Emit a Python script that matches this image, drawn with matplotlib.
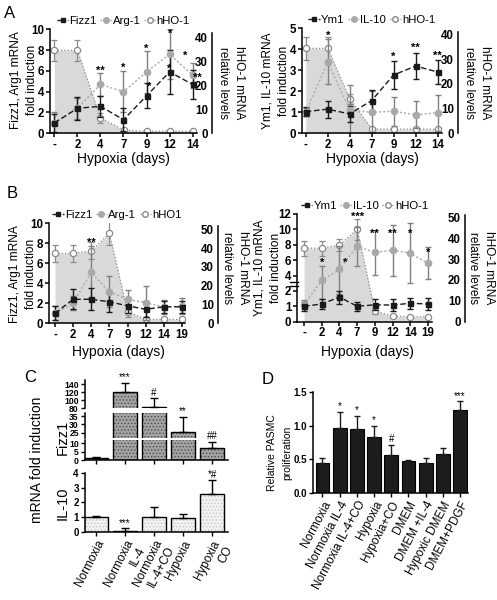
import numpy as np
import matplotlib.pyplot as plt
import matplotlib.transforms as mtransforms
from matplotlib.lines import Line2D

plt.rcParams['font.family'] = ['Liberation Sans', 'DejaVu Sans']
plt.rcParams['hatch.linewidth'] = 0.6

# ---------------- data ----------------
days_a = ['-', '2', '4', '7', '9', '12', '14']
days_b = ['-', '2', '4', '7', '9', '12', '14', '19']

# A, left: Fizz1 / Arg-1 (fold induction), hHO-1 (relative levels)
fizz1_a = [1.0, 2.4, 2.6, 1.3, 3.6, 5.9, 4.7]
fizz1_a_err = [0.9, 1.1, 1.0, 1.1, 1.2, 2.1, 1.4]
arg1_a = [1.0, 2.4, 4.7, 4.0, 5.9, 7.6, 5.6]
arg1_a_err = [1.0, 1.0, 1.1, 2.0, 2.0, 2.4, 1.2]
hho_a = [34.8, 34.8, 6.5, 1.4, 0.8, 1.0, 0.8]
hho_a_err = [4.5, 4.5, 2.0, 0.4, 0.2, 0.2, 0.2]
stars_a = [(2, 6.35, '**'), (3, 6.6, '*'), (4, 8.4, '*'), (4.12, 4.8, '*'),
           (5.04, 9.9, '*'), (5.0, 6.5, '*'), (5.67, 7.8, '*'), (6.2, 5.6, '**')]

# A, right: Ym1 / IL-10, hHO-1
ym1_a = [1.03, 1.15, 0.92, 1.56, 2.78, 3.2, 2.92]
ym1_a_err = [0.2, 0.4, 0.4, 0.5, 0.68, 0.63, 0.55]
il10_a = [1.0, 3.4, 1.1, 1.0, 1.05, 0.88, 0.98]
il10_a_err = [0.2, 1.07, 1.2, 1.0, 0.7, 0.65, 0.85]
hho_a2 = [34.3, 34.3, 14.0, 1.8, 1.6, 1.8, 1.6]
hho_a2_err = [4.5, 4.5, 2.0, 0.3, 0.3, 0.3, 0.3]
stars_a2 = [(1, 4.8, '*'), (4, 3.8, '*'), (5, 4.24, '**'), (6, 3.86, '**')]

# B, left: Fizz1 / Arg-1, hHO1
fizz1_b = [1.0, 2.4, 2.4, 2.15, 1.75, 1.4, 1.65, 1.65]
fizz1_b_err = [0.7, 1.0, 1.1, 1.0, 0.7, 0.8, 0.6, 0.6]
arg1_b = [1.0, 2.0, 5.1, 3.15, 2.4, 2.05, 1.65, 1.7]
arg1_b_err = [0.7, 0.7, 2.6, 1.55, 0.9, 1.7, 0.7, 0.8]
hho_b = [37.2, 37.2, 38.6, 47.9, 6.2, 2.1, 2.1, 2.1]
hho_b_err = [4.5, 4.5, 4.5, 6.3, 3.0, 0.5, 0.3, 0.3]
stars_b = [(2, 8.4, '**')]

# B, right: Ym1 / IL-10, hHO-1 (broken left axis)
ym1_b = [1.0, 1.15, 1.6, 1.0, 1.1, 1.08, 1.2, 1.15]
ym1_b_err = [0.3, 0.35, 0.45, 0.3, 0.35, 0.4, 0.35, 0.4]
il10_b = [1.1, 3.4, 4.8, 7.8, 7.0, 7.3, 6.9, 5.6]
il10_b_err = [0.3, 1.9, 3.0, 2.5, 2.9, 3.3, 3.9, 2.1]
hho_b2 = [35.2, 35.2, 36.7, 44.3, 5.1, 2.7, 2.4, 2.4]
hho_b2_err = [3.5, 3.5, 3.0, 5.0, 1.5, 0.5, 0.3, 0.3]
stars_b2 = [(1, 6.1, '*'), (2.3, 6.1, '*'), (3, 12.1, '***'), (4, 9.8, '**'),
            (5, 9.8, '**'), (6, 9.8, '*'), (7, 7.4, '*')]

# C: macrophage mRNA
c_groups = ['Normoxia', 'Normoxia\nIL-4', 'Normoxia\nIL-4+CO', 'Hypoxia', 'Hypoxia\nCO']
fizz1_c = [1.2, 120, 82.5, 25.8, 7.2]
fizz1_c_err = [0.6, 22, 22, 8.5, 3.4]
fizz1_c_sig = ['', '***', '#', '**', '##']
il10_c = [1.0, 0.08, 1.0, 0.93, 2.55]
il10_c_err = [0.08, 0.17, 0.67, 0.27, 0.95]
il10_c_sig = ['', '***', '', '', '*#']

# D: PASMC proliferation
d_groups = ['Normoxia', 'Normoxia IL-4', 'Normoxia IL-4+CO', 'Hypoxia', 'Hypoxia+CO',
            'DMEM', 'DMEM +IL-4', 'Hypoxic DMEM', 'DMEM+PDGF']
d_vals = [0.45, 0.96, 0.95, 0.83, 0.57, 0.47, 0.45, 0.58, 1.24]
d_err = [0.07, 0.25, 0.2, 0.17, 0.15, 0.02, 0.07, 0.09, 0.12]
d_sig = ['', '*', '*', '*', '#', '', '', '', '***']

# ---------------- figure ----------------
W, H = 497, 600
fig = plt.figure(figsize=(W / 100, H / 100), dpi=100)

DARK = '#1a1a1a'
GREY = '#a9a9a9'
OPEN = '#8a8a8a'
FILL = '#d9d9d9'


def box(l, t, r, b):
    return [l / W, 1 - b / H, (r - l) / W, (b - t) / H]


def label(x, y, s, **kw):
    fig.text(x / W, 1 - y / H, s, **kw)


def ylabel2(x1, x2, y, line1, line2, rot=90, size=8.6):
    # two-line axis title, one text per line
    label(x1, y, line1, rotation=rot, ha='center', va='center', fontsize=size)
    label(x2, y, line2, rotation=rot, ha='center', va='center', fontsize=size)


def style_ticks(ax, size, bold=True):
    for t in ax.get_xticklabels() + ax.get_yticklabels():
        t.set_fontsize(size)
        if bold:
            t.set_fontweight('bold')


def time_course(pos, days, xlim, ylim, yticks, rtop, rbound, roffset, rticks,
                dark, dark_err, grey, grey_err, hho, hho_err, names, stars,
                scale=None):
    ax = fig.add_axes(box(*pos))
    ax2 = ax.twinx()
    ax.set_zorder(ax2.get_zorder() + 1)
    ax.patch.set_visible(False)
    x = np.arange(len(days))

    # hHO-1 on the right axis, shaded underneath
    ax2.fill_between(x, 0, hho, color=FILL, lw=0)
    ax2.errorbar(x, hho, yerr=hho_err, color=OPEN, ls=':', lw=0.9, marker='o', ms=4.5,
                 mfc='white', mec=OPEN, mew=0.9, ecolor=OPEN, elinewidth=0.9, capsize=2)
    if scale is not None:
        ax.set_yscale('function', functions=scale)
    ax.errorbar(x, grey, yerr=grey_err, color=GREY, ls=(0, (1.5, 1.5)), lw=1, marker='o',
                ms=4.5, ecolor='#808080', elinewidth=1, capsize=2)
    ax.errorbar(x, dark, yerr=dark_err, color=DARK, ls=(0, (4, 2)), lw=1, marker='s',
                ms=3.6, ecolor=DARK, elinewidth=1, capsize=2)
    for xi, yi, s in stars:
        ax.annotate(s, (xi, yi), xytext=(0, -4.5), textcoords='offset points',
                    ha='center', va='baseline', fontsize=8, fontweight='bold',
                    annotation_clip=False)

    ax.set_xlim(xlim)
    ax.set_ylim(ylim)
    ax.set_xticks(x, days)
    ax.set_yticks(yticks)
    ax2.set_ylim(0, rtop)
    ax2.set_yticks(rticks)
    for s in ['top', 'right']:
        ax.spines[s].set_visible(False)
    for s in ['top', 'left', 'bottom']:
        ax2.spines[s].set_visible(False)
    for s in ax.spines.values():
        s.set_linewidth(1.1)
    ax2.spines['right'].set_linewidth(1.1)
    ax2.spines['right'].set_position(('outward', roffset * 0.72))
    ax2.spines['right'].set_bounds(0, rbound)
    ax.tick_params(direction='out', length=3, width=1.1, pad=1)
    ax2.tick_params(axis='y', direction='in', length=0, pad=-3)
    style_ticks(ax, 8.3)
    for t in ax2.get_yticklabels():
        t.set_fontsize(8.3)
        t.set_fontweight('bold')
        t.set_ha('right')

    handles = [
        Line2D([], [], color=DARK, ls=(0, (2.5, 1.2)), lw=1, marker='s', ms=3.3),
        Line2D([], [], color=GREY, ls=(0, (1.2, 1.2)), lw=1, marker='o', ms=4),
        Line2D([], [], color=OPEN, ls=':', lw=0.9, marker='o', ms=4, mfc='white'),
    ]
    ax.legend(handles, names, loc='lower center', bbox_to_anchor=(0.5, 1.0), ncol=3,
              frameon=False, fontsize=8.2, handlelength=1.0, handletextpad=0.1,
              columnspacing=0.3, borderpad=0.1, borderaxespad=0.15)
    return ax, ax2


# ---- A ----
time_course((50, 29.3, 197, 133.3), days_a, (-0.19, 6.19), (0, 10), range(0, 11, 2),
            43.65, 42, 15, range(0, 41, 10),
            fizz1_a, fizz1_a_err, arg1_a, arg1_a_err, hho_a, hho_a_err,
            ['Fizz1', 'Arg-1', 'hHO-1'], stars_a)
ylabel2(16, 32, 80, 'Fizz1, Arg1 mRNA', 'fold induction')
ylabel2(239, 223, 83, 'hHO-1 mRNA', 'relative levels', rot=-90)
label(123.5, 159, 'Hypoxia (days)', ha='center', va='center', fontsize=10)

time_course((302, 28.3, 442, 133.3), days_a, (-0.17, 6.2), (0, 5), range(0, 6),
            42.4, 41, 16, range(0, 41, 10),
            ym1_a, ym1_a_err, il10_a, il10_a_err, hho_a2, hho_a2_err,
            ['Ym1', 'IL-10', 'hHO-1'], stars_a2)
ylabel2(267, 284, 81, 'Ym1, IL-10 mRNA', 'fold induction')
ylabel2(485, 469, 83, 'hHO-1 mRNA', 'relative levels', rot=-90)
label(372, 159, 'Hypoxia (days)', ha='center', va='center', fontsize=10)

# ---- B ----
time_course((49, 223.3, 185, 323.3), days_b, (-0.33, 7.17), (0, 10), range(0, 11, 2),
            53.2, 52, 33, range(0, 51, 10),
            fizz1_b, fizz1_b_err, arg1_b, arg1_b_err, hho_b, hho_b_err,
            ['Fizz1', 'Arg-1', 'hHO1'], stars_b)
ylabel2(15, 31, 274, 'Fizz1, Arg1 mRNA', 'fold induction')
ylabel2(243, 227, 268, 'hHO-1 mRNA', 'relative levels', rot=-90)
label(118, 352, 'Hypoxia (days)', ha='center', va='center', fontsize=10)


def fwd(y):
    y = np.asarray(y, dtype=float)
    return np.where(y <= 2, y, 2 + (y - 2) / 2)


def inv(t):
    t = np.asarray(t, dtype=float)
    return np.where(t <= 2, t, 2 + (t - 2) * 2)


axb, _ = time_course((297, 214, 432, 321.7), days_b, (-0.4, 7.23), (0, 12),
                     [0, 1, 2, 4, 6, 8, 10, 12], 51.6, 51, 33, range(0, 51, 10),
                     ym1_b, ym1_b_err, il10_b, il10_b_err, hho_b2, hho_b2_err,
                     ['Ym1', 'IL-10', 'hHO-1'], stars_b2, scale=(fwd, inv))
brk = mtransforms.blended_transform_factory(axb.transAxes, axb.transData)
for yb in (2.65, 3.15):
    axb.plot([-0.05, 0.01], [yb, yb], color='black', lw=1, transform=brk, clip_on=False)
ylabel2(260, 276, 268, 'Ym1, IL-10 mRNA', 'fold induction')
ylabel2(489, 473, 268, 'hHO-1 mRNA', 'relative levels', rot=-90)
label(367, 352, 'Hypoxia (days)', ha='center', va='center', fontsize=10)

# ---- C ----
xc = np.arange(len(c_groups))
c_xlim = (-0.38, 4.55)


def hatched_bars(ax, vals, face, hatch_col):
    ax.bar(xc, vals, width=0.8, color=face, edgecolor=hatch_col, hatch='.....', lw=0)
    ax.bar(xc, vals, width=0.8, fill=False, edgecolor='black', lw=1)


segments = [(380, 408, 80, 150, [80, 100, 120, 140]),
            (413, 438, 22, 36.8, [25, 30, 35]),
            (440, 460, 0, 11.8, [0, 5, 10])]
for i, (t, b, lo, hi, ticks) in enumerate(segments):
    ax = fig.add_axes(box(85, t, 228, b))
    hatched_bars(ax, fizz1_c, '#a3a3a3', '#4d4d4d')
    ax.errorbar(xc, fizz1_c, yerr=[np.zeros(len(xc)), fizz1_c_err], fmt='none',
                ecolor='black', elinewidth=1, capsize=3)
    for xi, v, e, s in zip(xc, fizz1_c, fizz1_c_err, fizz1_c_sig):
        if s and lo <= v + e <= hi:
            ax.annotate(s, (xi, v + e), xytext=(0, 0.5), textcoords='offset points',
                        ha='center', va='bottom', fontsize=7, annotation_clip=False)
    ax.set_xlim(c_xlim)
    ax.set_ylim(lo, hi)
    ax.set_yticks(ticks)
    for s in ['top', 'right']:
        ax.spines[s].set_visible(False)
    ax.spines['left'].set_linewidth(1.1)
    ax.tick_params(direction='out', length=3, width=1, pad=1.5)
    if i < 2:
        ax.spines['bottom'].set_visible(False)
        ax.set_xticks([])
    else:
        ax.spines['bottom'].set_linewidth(1.1)
        ax.set_xticks(xc, [''] * len(xc))
    style_ticks(ax, 6.2)

axc = fig.add_axes(box(85, 470, 228, 532))
hatched_bars(axc, il10_c, '#f2f2f2', '#c4c4c4')
axc.errorbar(xc, il10_c, yerr=[np.zeros(len(xc)), il10_c_err], fmt='none',
             ecolor='black', elinewidth=1, capsize=3)
for xi, v, e, s in zip(xc, il10_c, il10_c_err, il10_c_sig):
    if s:
        axc.annotate(s, (xi, v + e), xytext=(0, 0.5), textcoords='offset points',
                     ha='center', va='bottom', fontsize=7, annotation_clip=False)
axc.set_xlim(c_xlim)
axc.set_ylim(0, 4.2)
axc.set_yticks(range(0, 5))
axc.spines['left'].set_bounds(0, 4)
for s in ['top', 'right']:
    axc.spines[s].set_visible(False)
for s in ['left', 'bottom']:
    axc.spines[s].set_linewidth(1.1)
axc.set_xticks(xc, c_groups)
axc.tick_params(direction='out', length=3, width=1, pad=1.5)
style_ticks(axc, 7)
for t in axc.get_xticklabels():
    t.set_fontsize(8.5)
    t.set_fontweight('normal')
    t.set_rotation(63)
    t.set_ha('right')
    t.set_va('top')
    t.set_rotation_mode('anchor')
    t.set_multialignment('right')

label(37, 460, 'mRNA fold induction', rotation=90, ha='center', va='center', fontsize=10)
label(63, 437, 'Fizz1', rotation=90, ha='center', va='center', fontsize=10.5)
label(63, 503, 'IL-10', rotation=90, ha='center', va='center', fontsize=10.5)

# ---- D ----
xd = np.arange(len(d_groups))
axd = fig.add_axes(box(313, 392, 468, 493))
axd.bar(xd, d_vals, width=0.8, color='#1c1c1c', edgecolor='black', lw=0.8)
axd.errorbar(xd, d_vals, yerr=[np.zeros(len(xd)), d_err], fmt='none',
             ecolor='#1c1c1c', elinewidth=1, capsize=2.5)
for xi, v, e, s in zip(xd, d_vals, d_err, d_sig):
    if s:
        axd.annotate(s, (xi, v + e), xytext=(0, 0.5), textcoords='offset points',
                     ha='center', va='bottom', fontsize=7, annotation_clip=False)
axd.set_xlim(-0.55, 8.46)
axd.set_ylim(0, 1.5)
axd.set_yticks([0, 0.5, 1.0, 1.5], ['0.0', '0.5', '1.0', '1.5'])
axd.set_xticks(xd, d_groups)
for s in ['top', 'right']:
    axd.spines[s].set_visible(False)
for s in ['left', 'bottom']:
    axd.spines[s].set_linewidth(1.1)
axd.tick_params(direction='out', length=3, width=1, pad=1.5)
style_ticks(axd, 7)
for t in axd.get_xticklabels():
    t.set_fontsize(8.5)
    t.set_fontweight('normal')
    t.set_rotation(62)
    t.set_ha('right')
    t.set_va('top')
    t.set_rotation_mode('anchor')
ylabel2(272, 287, 453, 'Relative PASMC', 'proliferation', size=7.5)

# panel letters
for s, x, y in [('A', 10, 13), ('B', 12, 193), ('C', 30, 377), ('D', 268, 379)]:
    label(x, y, s, ha='center', va='center', fontsize=12)

fig.savefig('out.png', dpi=100)
